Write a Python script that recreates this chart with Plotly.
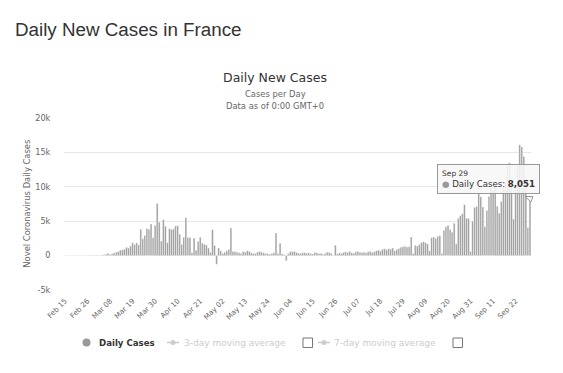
import pandas as pd
import plotly.graph_objects as go

# ---------------- data ----------------
feb_vals = [0, 0, 0, 0, 0, 0, 0, 0, 0, 0, 2, 4, 20, 19, 43]
mar_vals = [30, 61, 21, 73, 138, 190, 336, 177, 286, 372, 497, 595, 785, 838, 924,
            1210, 1097, 1404, 1861, 1617, 1847, 1559, 3838, 2446, 2931, 3922, 3809,
            4611, 2599, 4376, 7578]
apr_vals = [4861, 2116, 5233, 4267, 1873, 3912, 3777, 3881, 4286, 4342, 3114, 1613,
            2673, 5497, 2633, 2641, 405, 2569, 785, 2051, 2667, 1827, 1653, 1537,
            1104, 465, 3764, 1458, -1250, 1100]
may_vals = [700, 300, 500, 700, 900, 4000, 600, 600, 500, 400, 300, 600, 500, 700,
            600, 400, 300, 300, 500, 600, 500, 400, 300, 300, 200, 300, 400, 3300,
            300, 1800, 250]
jun_vals = [150, -750, 300, 600, 550, 600, 450, 350, 300, 400, 450, 350, 400, 300,
            250, 450, 400, 300, 350, 200, 300, 500, 450, 300, 0, 1500, 250, 400, 300,
            450]
jul_vals = [550, 450, 600, 400, 350, 550, 600, 500, 450, 500, 400, 550, 600, 450,
            550, 700, 800, 650, 900, 1000, 850, 1000, 950, 1100, 700, 900, 1050, 1200,
            1300, 1350, 1250]
aug_vals = [1300, 2700, 300, 1500, 1400, 1600, 1900, 2000, 1900, 1700, 700, 2600,
            2700, 2500, 2800, 2900, 300, 3700, 4200, 4400, 3800, 3400, 4700, 1700,
            5400, 5800, 6100, 7400, 5450, 5400, 600]
sep_vals = [4982, 7017, 7157, 8975, 8550, 7071, 4203, 6544, 8577, 9843, 9406, 10561,
            7183, 6158, 7852, 9784, 10593, 13215, 13498, 10569, 5298, 10008, 13072,
            16096, 15797, 14412, 11123, 4070, 8051]

daily_cases = feb_vals + mar_vals + apr_vals + may_vals + jun_vals + jul_vals + aug_vals + sep_vals
dates = list(pd.date_range("2020-02-15", "2020-09-29").strftime("%b %d"))

tick_labels = ["Feb 15", "Feb 26", "Mar 08", "Mar 19", "Mar 30", "Apr 10", "Apr 21",
               "May 02", "May 13", "May 24", "Jun 04", "Jun 15", "Jun 26", "Jul 07",
               "Jul 18", "Jul 29", "Aug 09", "Aug 20", "Aug 31", "Sep 11", "Sep 22"]
y_ticks = [-5000, 0, 5000, 10000, 15000, 20000]
y_tick_text = ["-5k", "0", "5k", "10k", "15k", "20k"]

# ---------------- layout helpers (screen pixel coordinates) ----------------
OFF = 8                      # page body margin offset
FW, FH = 563 - OFF, 373 - OFF
L, R, T, B = 64, 531, 118, 290   # plot area in screen pixels
W, H = R - L, B - T


def px(x):
    return (x - L) / W


def py(y):
    return (B - y) / H


CHART_FONT = "DejaVu Sans"
HEAD_FONT = "Liberation Sans, Arial"

fig = go.Figure()
fig.add_trace(go.Bar(
    x=dates, y=daily_cases, name="Daily Cases",
    marker=dict(color="#999999", line=dict(color="white", width=0.4)),
    hoverinfo="skip",
))

annotations = [
    dict(text="Daily New Cases in France", x=px(12.5), y=py(29.5), xanchor="left",
         yanchor="middle", font=dict(family=HEAD_FONT, size=18.8, color="#333333")),
    dict(text="Daily New Cases", x=px(275), y=py(77), xanchor="center", yanchor="middle",
         font=dict(family=CHART_FONT, size=12.5, color="#333333")),
    dict(text="Cases per Day", x=px(275), y=py(94), xanchor="center", yanchor="middle",
         font=dict(family=CHART_FONT, size=8.4, color="#666666")),
    dict(text="Data as of 0:00 GMT+0", x=px(275), y=py(105.5), xanchor="center",
         yanchor="middle", font=dict(family=CHART_FONT, size=8.4, color="#666666")),
    dict(text="Novel Coronavirus Daily Cases", x=px(26.7), y=py(204), textangle=-90,
         xanchor="center", yanchor="middle",
         font=dict(family=CHART_FONT, size=8.4, color="#666666")),
    # tooltip
    dict(text="<span style='font-size:7.5px'>Sep 29</span><br>"
              "<span style='color:#999999'>\u25CF</span> Daily Cases: <b>8,051</b>",
         x=px(437), y=py(163.5), xanchor="left", yanchor="top", align="left",
         bgcolor="rgba(247,247,247,0.88)", bordercolor="#999999", borderwidth=1,
         borderpad=4, font=dict(family=CHART_FONT, size=8.6, color="#333333")),
    # legend texts
    dict(text="<b>Daily Cases</b>", x=px(97), y=py(342.5), xanchor="left", yanchor="middle",
         font=dict(family=CHART_FONT, size=8.6, color="#333333")),
    dict(text="3-day moving average", x=px(182), y=py(342.5), xanchor="left",
         yanchor="middle", font=dict(family=CHART_FONT, size=9, color="#cccccc")),
    dict(text="7-day moving average", x=px(332), y=py(342.5), xanchor="left",
         yanchor="middle", font=dict(family=CHART_FONT, size=9, color="#cccccc")),
]
for a in annotations:
    a.update(xref="paper", yref="paper", showarrow=False)

shapes = []
shapes.append(dict(type="circle", xref="paper", yref="paper",
                   x0=px(82.5), x1=px(90.5), y0=py(346.5), y1=py(338.5),
                   fillcolor="#999999", line=dict(width=0)))
for lx0, cbx in [(167, 303), (318, 453)]:
    shapes.append(dict(type="line", xref="paper", yref="paper",
                       x0=px(lx0), x1=px(lx0 + 12), y0=py(342.5), y1=py(342.5),
                       line=dict(color="#cccccc", width=1.5)))
    shapes.append(dict(type="circle", xref="paper", yref="paper",
                       x0=px(lx0 + 3.5), x1=px(lx0 + 8.5), y0=py(345), y1=py(340),
                       fillcolor="#cccccc", line=dict(width=0)))
    shapes.append(dict(type="rect", xref="paper", yref="paper",
                       x0=px(cbx), x1=px(cbx + 9.5), y0=py(347.5), y1=py(338),
                       fillcolor="white", line=dict(color="#777777", width=1)))
shapes.append(dict(type="path", xref="paper", yref="paper",
                   path=f"M {px(525)} {py(196.5)} L {px(531)} {py(202)} L {px(533)} {py(196.5)} Z",
                   fillcolor="rgba(247,247,247,0.95)", line=dict(color="#999999", width=1)))

fig.update_layout(
    width=FW, height=FH,
    margin=dict(l=L - OFF, r=FW - (R - OFF), t=T - OFF, b=FH - (B - OFF), pad=0),
    paper_bgcolor="white", plot_bgcolor="white",
    showlegend=False, bargap=0.15,
    annotations=annotations, shapes=shapes,
    font=dict(family=CHART_FONT, color="#666666"),
    xaxis=dict(type="category", range=[-0.5, len(dates) - 0.5],
               tickmode="array", tickvals=tick_labels, ticktext=tick_labels,
               tickangle=-45, tickfont=dict(family=CHART_FONT, size=7.2, color="#666666"),
               showgrid=False, showline=False, zeroline=False,
               ticks="outside", ticklen=3, tickcolor="rgba(0,0,0,0)", fixedrange=True),
    yaxis=dict(range=[-5000, 20000], tickmode="array", tickvals=y_ticks,
               ticktext=y_tick_text,
               tickfont=dict(family=CHART_FONT, size=8.2, color="#666666"),
               showgrid=True, gridcolor="#e6e6e6", gridwidth=1,
               zeroline=True, zerolinecolor="#e6e6e6", zerolinewidth=1,
               showline=False, ticks="outside", ticklen=11,
               tickcolor="rgba(0,0,0,0)", fixedrange=True),
)

fig.write_html("out.html")
